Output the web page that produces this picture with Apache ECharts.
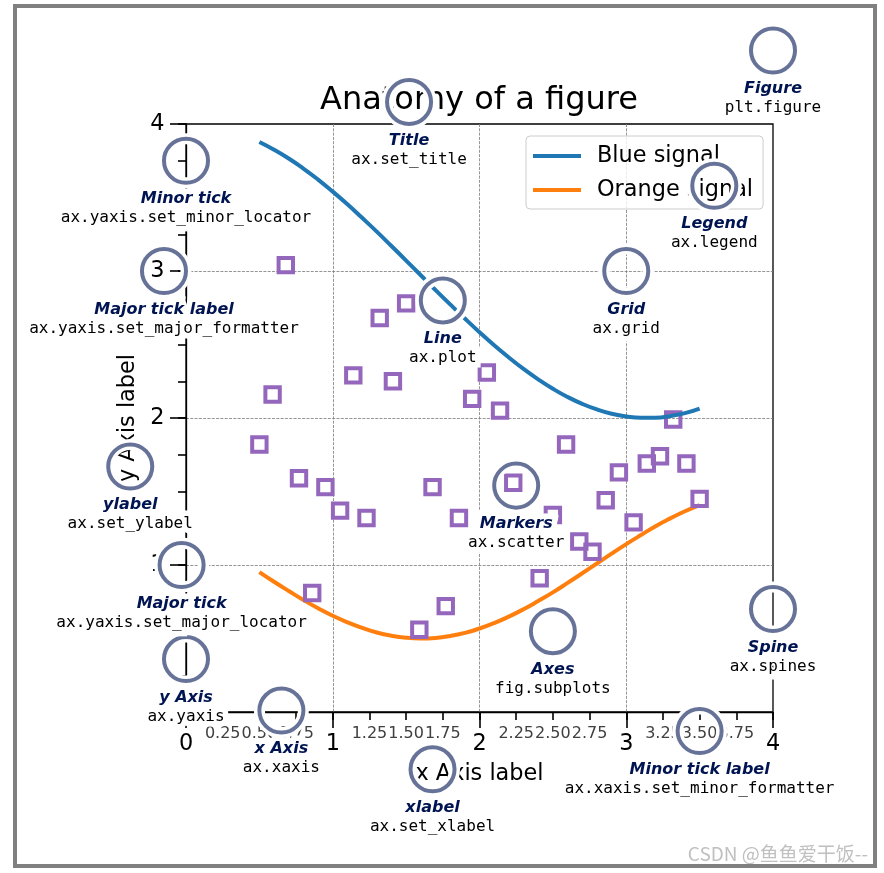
<!DOCTYPE html>
<html><head><meta charset="utf-8">
<script src="https://cdn.jsdelivr.net/npm/echarts@6/dist/echarts.min.js"></script>
<style>html,body{margin:0;padding:0;background:#fff}#main{width:884px;height:873px}</style>
</head><body><div id="main"></div>
<script>
// ---- data ----
const lineX = [0.5, 0.6, 0.7, 0.8, 0.9, 1.0, 1.1, 1.2, 1.3, 1.4, 1.5, 1.6, 1.7, 1.8, 1.9, 2.0,
               2.1, 2.2, 2.3, 2.4, 2.5, 2.6, 2.7, 2.8, 2.9, 3.0, 3.1, 3.2, 3.3, 3.4, 3.5];
const blueSignal = [3.878, 3.825, 3.765, 3.697, 3.622, 3.540, 3.454, 3.362, 3.268, 3.170, 3.071, 2.971, 2.871, 2.773,
                    2.677, 2.584, 2.495, 2.412, 2.334, 2.263, 2.199, 2.143, 2.096, 2.058, 2.029, 2.010, 2.001, 2.002,
                    2.013, 2.033, 2.064];
const orangeSignal = [0.952, 0.886, 0.823, 0.762, 0.706, 0.655, 0.610, 0.572, 0.541, 0.519, 0.505, 0.500, 0.504, 0.517,
                      0.538, 0.568, 0.605, 0.649, 0.699, 0.755, 0.814, 0.878, 0.944, 1.010, 1.077, 1.142, 1.204, 1.264,
                      1.317, 1.366, 1.408];
const markerX = [0.50, 0.59, 0.68, 0.77, 0.86, 0.95, 1.05, 1.14, 1.23, 1.32, 1.41, 1.50, 1.59, 1.68, 1.77, 1.86, 1.95,
                 2.05, 2.14, 2.23, 2.41, 2.50, 2.59, 2.68, 2.77, 2.86, 2.95, 3.05, 3.14, 3.23, 3.32, 3.41, 3.50];
const markerY = [1.82, 2.16, 3.04, 1.59, 0.81, 1.53, 1.37, 2.29, 1.32, 2.68, 2.25, 2.78, 0.56, 1.53, 0.72, 1.32, 2.13,
                 2.31, 2.05, 1.56, 0.91, 1.34, 1.82, 1.16, 1.09, 1.44, 1.63, 1.29, 1.69, 1.74, 1.99, 1.69, 1.45];
const seriesNames = ['Blue signal', 'Orange signal'];
const titleText = 'Anatomy of a figure';
const xAxisName = 'x Axis label';
const yAxisName = 'y Axis label';
const axisMin = 0, axisMax = 4, majorStep = 1, minorStep = 0.25;
const annotations = [
  [3.50, -0.13, 'Minor tick label', 'ax.xaxis.set_minor_formatter'],
  [-0.03, 1.00, 'Major tick', 'ax.yaxis.set_major_locator'],
  [0.00, 3.75, 'Minor tick', 'ax.yaxis.set_minor_locator'],
  [-0.15, 3.00, 'Major tick label', 'ax.yaxis.set_major_formatter'],
  [1.68, -0.39, 'xlabel', 'ax.set_xlabel'],
  [-0.38, 1.67, 'ylabel', 'ax.set_ylabel'],
  [1.52, 4.15, 'Title', 'ax.set_title'],
  [1.75, 2.80, 'Line', 'ax.plot'],
  [2.25, 1.54, 'Markers', 'ax.scatter'],
  [3.00, 3.00, 'Grid', 'ax.grid'],
  [3.60, 3.58, 'Legend', 'ax.legend'],
  [2.50, 0.55, 'Axes', 'fig.subplots'],
  [4.00, 4.50, 'Figure', 'plt.figure'],
  [0.65, 0.01, 'x Axis', 'ax.xaxis'],
  [0.00, 0.36, 'y Axis', 'ax.yaxis'],
  [4.00, 0.70, 'Spine', 'ax.spines']
];
const watermark = 'CSDN @鱼鱼爱干饭--';

// ---- chart ----
const FONT = 'DejaVu Sans';
const MONO = 'DejaVu Sans Mono';
const chart = echarts.init(document.getElementById('main'), null, {renderer: 'canvas'});

const isInt = v => Math.abs(v - Math.round(v)) < 1e-9;
const majorAxis = (extra, showMin) => Object.assign({
  type: 'value', min: axisMin, max: axisMax, interval: majorStep,
  axisLine: {show: true, lineStyle: {color: '#000', width: 1.3}},
  axisTick: {show: true, inside: false, length: 16, lineStyle: {color: '#000', width: 1.6}},
  axisLabel: {show: true, fontSize: 22.4, color: '#000', fontFamily: FONT, margin: 21.6,
              showMinLabel: showMin, showMaxLabel: true},
  splitLine: {show: true, showMinLine: false, showMaxLine: false,
              lineStyle: {color: '#7a7a7a', width: 0.8, type: [3, 1.3]}},
  nameLocation: 'middle',
  nameTextStyle: {fontSize: 22.4, color: '#000', fontFamily: FONT}
}, extra);
const minorAxis = (extra) => Object.assign({
  type: 'value', min: axisMin, max: axisMax, interval: minorStep,
  axisLine: {show: false},
  axisTick: {show: true, inside: false, length: 8, lineStyle: {color: '#000', width: 1.6}},
  splitLine: {show: false}
}, extra);

const option = {
  animation: false,
  textStyle: {fontFamily: FONT},
  title: {
    text: titleText, left: 320, top: 85, padding: 0,
    textStyle: {fontSize: 32, fontWeight: 'normal', color: '#000', fontFamily: FONT}
  },
  legend: {
    data: seriesNames, orient: 'vertical', left: 526, top: 136,
    icon: 'rect', itemWidth: 48, itemHeight: 4, itemGap: 12,
    padding: [9, 10, 8, 7],
    backgroundColor: 'rgba(255,255,255,0.8)', borderColor: '#cccccc', borderWidth: 1, borderRadius: 4,
    textStyle: {fontSize: 22.4, color: '#000', fontFamily: FONT, lineHeight: 22, padding: [0, 0, 0, 11]},
    selectedMode: false, z: 5
  },
  grid: {left: 186, right: 111, top: 124, bottom: 161, show: true, borderColor: '#000', borderWidth: 1.3,
         backgroundColor: 'transparent'},
  xAxis: [
    majorAxis({position: 'bottom', name: xAxisName, nameGap: 51}, true),
    minorAxis({position: 'bottom',
      axisLabel: {show: true, fontSize: 16, color: '#404040', fontFamily: FONT, margin: 13.6,
                  showMinLabel: true, showMaxLabel: true,
                  formatter: v => isInt(v) ? '' : v.toFixed(2)}})
  ],
  yAxis: [
    // the y "0" label sits under the white halo of the "ax.yaxis" note in the reference
    majorAxis({position: 'left', name: yAxisName, nameGap: 36}, false),
    minorAxis({position: 'left', axisLabel: {show: false}})
  ],
  series: [
    {name: seriesNames[0], type: 'line', xAxisIndex: 0, yAxisIndex: 0, z: 4,
     data: lineX.map((x, i) => [x, blueSignal[i]]), smooth: true, showSymbol: false,
     lineStyle: {color: '#1f77b4', width: 4}, itemStyle: {color: '#1f77b4'}, emphasis: {disabled: true}},
    {name: seriesNames[1], type: 'line', xAxisIndex: 0, yAxisIndex: 0, z: 2,
     data: lineX.map((x, i) => [x, orangeSignal[i]]), smooth: true, showSymbol: false,
     lineStyle: {color: '#ff7f0e', width: 4}, itemStyle: {color: '#ff7f0e'}, emphasis: {disabled: true}},
    {name: 'markers', type: 'scatter', xAxisIndex: 0, yAxisIndex: 0, z: 3,
     data: markerX.map((x, i) => [x, markerY[i]]), symbol: 'rect', symbolSize: 14.4,
     itemStyle: {color: 'rgba(0,0,0,0)', borderColor: '#9467bd', borderWidth: 4, borderJoin: 'miter', opacity: 1},
     emphasis: {disabled: true}}
  ]
};
chart.setOption(option);

// ---- annotations, positioned through the chart's own scales ----
const toPx = p => chart.convertToPixel({seriesIndex: 0}, p);
const o = toPx([0, 0]);
const r = Math.abs(toPx([0.15, 0])[0] - o[0]);
const g = [];
g.push({type: 'rect', shape: {x: 15, y: 6, width: 860, height: 860},
        style: {fill: 'none', stroke: '#808080', lineWidth: 4}, z: 200, silent: true});
annotations.forEach(([x, y, label, code]) => {
  const c = toPx([x, y]);
  g.push({type: 'circle', shape: {cx: c[0], cy: c[1], r: r}, style: {fill: 'none', stroke: '#fff', lineWidth: 11}, z: 10, silent: true});
  g.push({type: 'circle', shape: {cx: c[0], cy: c[1], r: r}, style: {fill: 'none', stroke: 'rgba(0,20,82,0.6)', lineWidth: 4}, z: 11, silent: true});
});
[true, false].forEach(halo => {
  annotations.forEach(([x, y, label, code]) => {
    const pl = toPx([x, y - 0.2]);
    const pc = toPx([x, y - 0.33]);
    const base = halo ? {fill: '#fff', stroke: '#fff', lineWidth: 11} : {};
    g.push({type: 'text', x: pl[0], y: pl[1] + 1, z: halo ? 100 : 101, silent: true,
      style: Object.assign({text: label, fontSize: 16, fontFamily: FONT, fontWeight: 'bold', fontStyle: 'italic',
        fill: halo ? '#fff' : '#001452', align: 'center', verticalAlign: 'top'}, base)});
    g.push({type: 'text', x: pc[0], y: pc[1] + 1, z: halo ? 100 : 101, silent: true,
      style: Object.assign({text: code, fontSize: 16, fontFamily: MONO, fontWeight: 'normal',
        fill: halo ? '#fff' : '#000', align: 'center', verticalAlign: 'top'}, base)});
  });
});
g.push({type: 'text', x: 868, y: 854, z: 150, silent: true,
        style: {text: watermark, fontSize: 19, fontFamily: 'Noto Sans CJK SC', fill: '#c0c0c0',
                align: 'right', verticalAlign: 'middle'}});
chart.setOption({graphic: {elements: g}});
</script>
</body></html>
